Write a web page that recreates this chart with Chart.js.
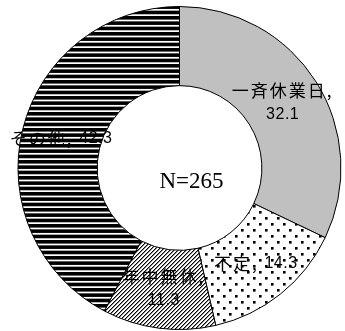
<!DOCTYPE html>
<html>
<head>
<meta charset="utf-8">
<script src="https://cdn.jsdelivr.net/npm/chart.js@4/dist/chart.umd.min.js"></script>
<style>
  html, body { margin: 0; padding: 0; background: #fff; overflow: hidden; }
  #wrap { position: relative; width: 345px; height: 331px; }
</style>
</head>
<body>
<div id="wrap"><canvas id="c"></canvas></div>
<script>
// Closing-day types (share of respondents, %)
const categories = ['一斉休業日', '不定', '年中無休', 'その他'];
const shares = [32.1, 14.3, 11.3, 42.3];
const sampleSize = 265;
// Labels that break after the comma onto a second line
const wrapLabel = [true, false, true, false];

// Monochrome fill patterns for the slices
function makePattern(kind) {
  const c = document.createElement('canvas');
  let g;
  if (kind === 'dots') {
    c.width = 12; c.height = 12;
    g = c.getContext('2d');
    g.fillStyle = '#fff'; g.fillRect(0, 0, 12, 12);
    g.fillStyle = '#000';
    g.fillRect(1, 1, 2.6, 2.6);
    g.fillRect(7, 7, 2.6, 2.6);
  } else if (kind === 'diag') {
    // crisp "///" hatch, 4 px period
    c.width = 4; c.height = 4;
    g = c.getContext('2d');
    g.fillStyle = '#fff'; g.fillRect(0, 0, 4, 4);
    g.fillStyle = '#000';
    for (let y = 0; y < 4; y++) {
      g.fillRect(3 - y, y, 1, 1);
    }
    g.fillStyle = 'rgba(0,0,0,0.45)';
    for (let y = 0; y < 4; y++) {
      g.fillRect((4 - y) % 4, y, 1, 1);
    }
  } else {
    // heavy horizontal stripes, three per 16 px
    c.width = 4; c.height = 16;
    g = c.getContext('2d');
    g.fillStyle = '#fff'; g.fillRect(0, 0, 4, 16);
    g.fillStyle = '#000';
    for (let k = 0; k < 3; k++) {
      g.fillRect(0, k * 16 / 3, 4, 3.6);
    }
  }
  return g.createPattern(c, 'repeat');
}

const ctx0 = document.getElementById('c').getContext('2d');
const fills = ['#c0c0c0', makePattern('dots'), makePattern('diag'), makePattern('stripes')];

const CJK_FONT = '17px "Noto Sans CJK JP", sans-serif';
const NUM_FONT = '16px "Liberation Sans", Arial, sans-serif';

// Draw a run of differently styled text pieces, centred on (cx, cy)
function drawRun(ctx, pieces, cx, cy) {
  let total = 0;
  const widths = pieces.map(([t, f, ls]) => {
    ctx.font = f; ctx.letterSpacing = ls + 'px';
    const w = ctx.measureText(t).width;
    total += w;
    return w;
  });
  let x = cx - total / 2;
  pieces.forEach(([t, f, ls], i) => {
    ctx.font = f; ctx.letterSpacing = ls + 'px';
    ctx.fillText(t, x, cy);
    x += widths[i];
  });
}

const sliceLabels = {
  id: 'sliceLabels',
  afterDatasetsDraw(chart) {
    const ctx = chart.ctx;
    const arcs = chart.getDatasetMeta(0).data;
    ctx.save();
    ctx.fillStyle = '#000';
    ctx.textAlign = 'left';
    ctx.textBaseline = 'middle';
    arcs.forEach((arc, i) => {
      const p = arc.tooltipPosition(false);
      const name = categories[i] + ',';
      const val = shares[i].toFixed(1);
      if (wrapLabel[i]) {
        drawRun(ctx, [[name, CJK_FONT, 2]], p.x, p.y - 12);
        drawRun(ctx, [[val, NUM_FONT, 0.5]], p.x, p.y + 12);
      } else {
        drawRun(ctx, [[name + ' ', CJK_FONT, 2], [val, NUM_FONT, 0.5]], p.x, p.y);
      }
    });
    // sample size in the hole
    const a = arcs[0];
    ctx.letterSpacing = '0px';
    ctx.font = '23px "Liberation Serif", serif';
    ctx.textAlign = 'center';
    ctx.fillText('N=' + sampleSize, a.x + 12, a.y + 14);
    ctx.restore();
  }
};

new Chart(ctx0, {
  type: 'doughnut',
  data: {
    labels: categories,
    datasets: [{
      data: shares,
      backgroundColor: fills,
      borderColor: '#000',
      borderWidth: 1,
      hoverOffset: 0
    }]
  },
  options: {
    responsive: true,
    maintainAspectRatio: false,
    animation: false,
    cutout: '51%',
    layout: { padding: { left: 14, right: 0, top: 6, bottom: 1 } },
    plugins: { legend: { display: false }, tooltip: { enabled: false } },
    events: []
  },
  plugins: [sliceLabels]
});
</script>
</body>
</html>
